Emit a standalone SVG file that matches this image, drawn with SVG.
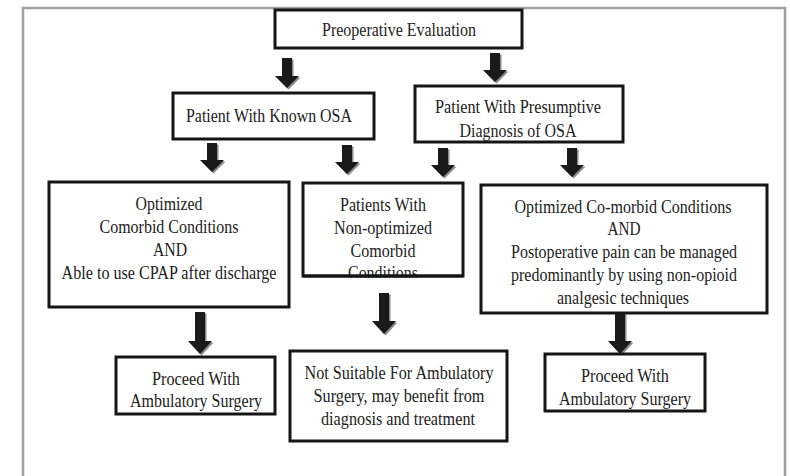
<svg xmlns="http://www.w3.org/2000/svg" width="790" height="476" viewBox="0 0 790 476">
<defs>
<style>
.box{fill:#fff;stroke:#151515;stroke-width:3}
text{font-family:"Liberation Serif","Times New Roman",serif;font-size:19px;fill:#222;text-anchor:middle}
.arr{fill:#1a1a1a}
.arrs{fill:#8a8a8a}
</style>
<clipPath id="clipMid"><rect x="303" y="183" width="160" height="95"/></clipPath>
</defs>
<rect x="0" y="0" width="790" height="476" fill="#fff"/>
<path d="M23,476 V8 H785 V476" fill="none" stroke="#a0a0a0" stroke-width="2.5"/>

<g id="connectors">
<path class="arrs" d="M283.5,59.5h10v18h7l-12,12l-12,-12h7z"/>
<path class="arr" d="M282,58h10v18h7l-12,12l-12,-12h7z"/>
<path class="arrs" d="M491.5,54.5h10v17h7l-12,12l-12,-12h7z"/>
<path class="arr" d="M490,53h10v17h7l-12,12l-12,-12h7z"/>
<path class="arrs" d="M208.5,144.5h10v17h7l-12,12l-12,-12h7z"/>
<path class="arr" d="M207,143h10v17h7l-12,12l-12,-12h7z"/>
<path class="arrs" d="M343.5,146.5h10v17h7l-12,12l-12,-12h7z"/>
<path class="arr" d="M342,145h10v17h7l-12,12l-12,-12h7z"/>
<path class="arrs" d="M439.5,149.5h10v17h7l-12,12l-12,-12h7z"/>
<path class="arr" d="M438,148h10v17h7l-12,12l-12,-12h7z"/>
<path class="arrs" d="M568.5,149.5h10v17h7l-12,12l-12,-12h7z"/>
<path class="arr" d="M567,148h10v17h7l-12,12l-12,-12h7z"/>
<path class="arrs" d="M196.5,313.5h10v29h7l-12,13l-12,-13h7z"/>
<path class="arr" d="M195,312h10v29h7l-12,13l-12,-13h7z"/>
<path class="arrs" d="M380.5,294.5h10v28h7l-12,13l-12,-13h7z"/>
<path class="arr" d="M379,293h10v28h7l-12,13l-12,-13h7z"/>
<path class="arrs" d="M616.5,314.5h10v28h7l-12,13l-12,-13h7z"/>
<path class="arr" d="M615,313h10v28h7l-12,13l-12,-13h7z"/>
</g>

<g id="n-preop">
<rect class="box" x="275" y="10" width="247" height="38"/>
<text x="399" y="36" textLength="154" lengthAdjust="spacingAndGlyphs">Preoperative Evaluation</text>
</g>

<g id="n-known">
<rect class="box" x="173" y="93" width="201" height="46"/>
<text x="269" y="122" textLength="166" lengthAdjust="spacingAndGlyphs">Patient With Known OSA</text>
</g>

<g id="n-presumptive">
<rect class="box" x="415" y="86" width="208" height="56"/>
<text x="518" y="113" textLength="166" lengthAdjust="spacingAndGlyphs">Patient With Presumptive</text>
<text x="518" y="137" textLength="117" lengthAdjust="spacingAndGlyphs">Diagnosis of OSA</text>
</g>

<g id="n-optimized-cpap">
<rect class="box" x="49" y="182" width="240" height="125"/>
<text x="169" y="210" textLength="67" lengthAdjust="spacingAndGlyphs">Optimized</text>
<text x="169" y="233" textLength="139" lengthAdjust="spacingAndGlyphs">Comorbid Conditions</text>
<text x="170" y="256" textLength="34" lengthAdjust="spacingAndGlyphs">AND</text>
<text x="169" y="279" textLength="215" lengthAdjust="spacingAndGlyphs">Able to use CPAP after discharge</text>
</g>

<g id="n-nonoptimized">
<rect class="box" x="303" y="183" width="160" height="93"/>
<text x="383" y="211" textLength="86" lengthAdjust="spacingAndGlyphs">Patients With</text>
<text x="383" y="234" textLength="98" lengthAdjust="spacingAndGlyphs">Non-optimized</text>
<text x="383" y="257" textLength="65" lengthAdjust="spacingAndGlyphs">Comorbid</text>
<text x="383" y="279" textLength="70" lengthAdjust="spacingAndGlyphs" clip-path="url(#clipMid)">Conditions</text>
<path d="M303,276 H463" stroke="#151515" stroke-width="3"/>
</g>

<g id="n-optimized-pain">
<rect class="box" x="481" y="185" width="286" height="128"/>
<text x="623" y="213" textLength="217" lengthAdjust="spacingAndGlyphs">Optimized Co-morbid Conditions</text>
<text x="624" y="235" textLength="33" lengthAdjust="spacingAndGlyphs">AND</text>
<text x="624" y="258" textLength="226" lengthAdjust="spacingAndGlyphs">Postoperative pain can be managed</text>
<text x="624" y="281" textLength="226" lengthAdjust="spacingAndGlyphs">predominantly by using non-opioid</text>
<text x="623" y="304" textLength="132" lengthAdjust="spacingAndGlyphs">analgesic techniques</text>
</g>

<g id="n-proceed-left">
<rect class="box" x="116" y="357" width="159" height="57"/>
<text x="196" y="385" textLength="88" lengthAdjust="spacingAndGlyphs">Proceed With</text>
<text x="196" y="407" textLength="132" lengthAdjust="spacingAndGlyphs">Ambulatory Surgery</text>
</g>

<g id="n-not-suitable">
<rect class="box" x="290" y="351" width="217" height="90"/>
<text x="399" y="379" textLength="189" lengthAdjust="spacingAndGlyphs">Not Suitable For Ambulatory</text>
<text x="399" y="402" textLength="171" lengthAdjust="spacingAndGlyphs">Surgery, may benefit from</text>
<text x="398" y="425" textLength="154" lengthAdjust="spacingAndGlyphs">diagnosis and treatment</text>
</g>

<g id="n-proceed-right">
<rect class="box" x="545" y="354" width="160" height="57"/>
<text x="625" y="382" textLength="88" lengthAdjust="spacingAndGlyphs">Proceed With</text>
<text x="625" y="405" textLength="132" lengthAdjust="spacingAndGlyphs">Ambulatory Surgery</text>
</g>
</svg>
